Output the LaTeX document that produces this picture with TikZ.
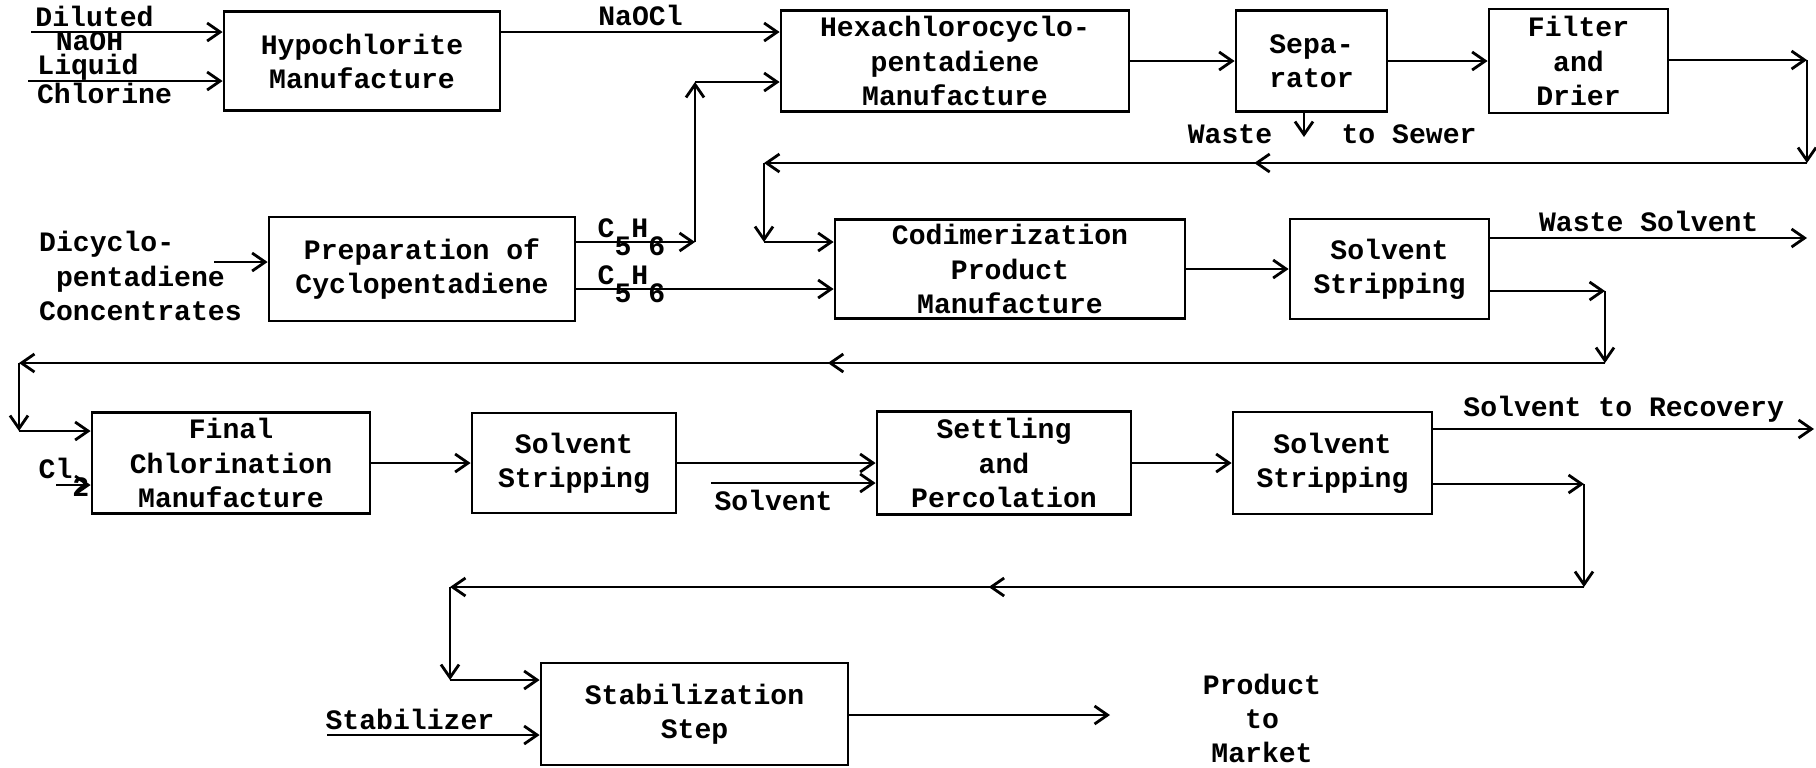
\documentclass[tikz,border=0pt]{standalone}
\usepackage{fontspec}
\setmainfont{Liberation Mono}
\usetikzlibrary{arrows.meta, decorations.markings}

\newcommand{\cph}{C\raisebox{-5.4pt}{5}H\raisebox{-5.4pt}{6}}

\begin{document}
\begin{tikzpicture}[
    font=\fontsize{8}{9.7}\selectfont\bfseries,
    node distance=3cm,
    box/.style={rectangle, draw, line width=0.8pt, align=center, inner sep=0.5pt, minimum height=1cm},
    txt/.style={align=center, inner sep=1pt},
    arrow/.style={-{Straight Barb[length=1.3mm, width=1.8mm]}, line width=0.8pt},
    back/.style={arrow, postaction={decorate, decoration={markings, mark=at position #1 with {\arrow{Straight Barb[length=1.3mm, width=1.8mm]}}}}}
]
    \useasboundingbox (0,0) rectangle (18.16,-7.67);

    \node[box, minimum width=2.76cm, minimum height=0.99cm] (hypo) at (3.62,-0.61) {Hypochlorite\\Manufacture};
    \node[box, right of=hypo, node distance=5.93cm, minimum width=3.48cm, minimum height=1.01cm] (hexa) {Hexachlorocyclo-\\pentadiene\\Manufacture};
    \node[box, right of=hexa, node distance=3.565cm, minimum width=1.51cm, minimum height=1.01cm] (sep) {Sepa-\\rator};
    \node[box, right of=sep, node distance=2.67cm, minimum width=1.79cm, minimum height=1.04cm] (filt) {Filter\\and\\Drier};

    \node[box, minimum width=3.06cm, minimum height=1.04cm] (prep) at (4.22,-2.69) {Preparation of\\Cyclopentadiene};
    \node[box, right of=prep, node distance=5.88cm, minimum width=3.5cm, minimum height=0.99cm] (codim) {Codimerization\\Product\\Manufacture};
    \node[box, right of=codim, node distance=3.795cm, minimum width=1.99cm] (strip1) {Solvent\\Stripping};

    \node[box, minimum width=2.78cm, minimum height=1.01cm] (final) at (2.31,-4.63) {Final\\Chlorination\\Manufacture};
    \node[box, right of=final, node distance=3.43cm, minimum width=2.04cm] (strip2) {Solvent\\Stripping};
    \node[box, right of=strip2, node distance=4.30cm, minimum width=2.54cm, minimum height=1.03cm] (settle) {Settling\\and\\Percolation};
    \node[box, right of=settle, node distance=3.285cm, minimum width=1.99cm, minimum height=1.02cm] (strip3) {Solvent\\Stripping};

    \node[box, minimum width=3.07cm, minimum height=1.02cm] (stab) at (6.945,-7.14) {Stabilization\\Step};

    \node[txt, inner sep=0pt] (diluted) at (0.945,-0.16) {Diluted};
    \node[txt, inner sep=0pt] (naoh) at (0.895,-0.41) {NaOH};
    \node[txt, inner sep=0pt] (liquid) at (0.88,-0.675) {Liquid};
    \node[txt, inner sep=0pt] (chlorine) at (1.045,-0.935) {Chlorine};
    \node[txt, anchor=west, align=left] (dcpd) at (0.35,-2.76) {Dicyclo-\\\phantom{D}pentadiene\\Concentrates};
    \node[anchor=base west, inner sep=0pt] (cph1) at (5.97,-2.37) {\cph};
    \node[anchor=base west, inner sep=0pt] (cph2) at (5.97,-2.84) {\cph};
    \node[txt] (waste) at (12.30,-1.34) {Waste};
    \node[txt] (sewer) at (14.09,-1.34) {to Sewer};
    \node[anchor=base west, inner sep=0pt] (cl) at (0.38,-4.78) {Cl\raisebox{-5.4pt}{2}};
    \node[txt] (market) at (12.62,-7.185) {Product\\to\\Market};

    \coordinate (naohin) at (0.31,-0.32);
    \coordinate (clin) at (0.28,-0.81);
    \coordinate (cp1) at (6.95,-2.42);
    \coordinate (cp2) at (6.95,-0.82);
    \coordinate (dcpdin) at (2.14,-2.62);
    \coordinate (r1) at (18.07,-0.60);
    \coordinate (r2) at (18.07,-1.63);
    \coordinate (r3) at (7.64,-1.63);
    \coordinate (r4) at (7.64,-2.42);
    \coordinate (sew) at (13.04,-1.37);
    \coordinate (wsout) at (18.07,-2.38);
    \coordinate (s1) at (16.05,-2.91);
    \coordinate (s2) at (16.05,-3.63);
    \coordinate (s3) at (0.19,-3.63);
    \coordinate (s4) at (0.19,-4.31);
    \coordinate (cl2in) at (0.56,-4.85);
    \coordinate (solvin) at (7.11,-4.83);
    \coordinate (recout) at (18.14,-4.29);
    \coordinate (t1) at (15.84,-4.84);
    \coordinate (t2) at (15.84,-5.87);
    \coordinate (t3) at (4.50,-5.87);
    \coordinate (t4) at (4.50,-6.80);
    \coordinate (stzin) at (3.27,-7.35);
    \coordinate (mktin) at (11.10,-7.15);

    \draw[arrow] (naohin) -- (naohin -| hypo.west);
    \draw[arrow] (clin) -- (clin -| hypo.west);
    \draw[arrow] (hypo.east |- naohin) -- node[above, inner sep=1.5pt] {NaOCl} (hexa.west |- naohin);
    \draw[arrow] (hexa) -- (sep);
    \draw[arrow] (sep) -- (filt);
    \draw[arrow] (sew |- sep.south) -- (sew);
    \draw[arrow] (filt.east |- r1) -- (r1);
    \draw[arrow] (r1) -- (r2);
    \draw[back=0.53] (r2) -- (r3);
    \draw[arrow] (r3) -- (r4);
    \draw[arrow] (r4) -- (r4 -| codim.west);

    \draw[arrow] (dcpdin) -- (dcpdin -| prep.west);
    \draw[arrow] (prep.east |- cp1) -- (cp1);
    \draw[arrow] (cp1) -- (cp2);
    \draw[arrow] (cp2) -- (cp2 -| hexa.west);
    \draw[arrow] ([yshift=-2mm]prep.east) -- ([yshift=-2mm]prep.east -| codim.west);
    \draw[arrow] (codim) -- (strip1);
    \draw[arrow] (strip1.east |- wsout) -- node[above, inner sep=1.5pt] {Waste Solvent} (wsout);
    \draw[arrow] (strip1.east |- s1) -- (s1);
    \draw[arrow] (s1) -- (s2);
    \draw[back=0.49] (s2) -- (s3);
    \draw[arrow] (s3) -- (s4);
    \draw[arrow] (s4) -- (s4 -| final.west);

    \draw[arrow] (cl2in) -- (cl2in -| final.west);
    \draw[arrow] (final) -- (strip2);
    \draw[arrow] (strip2) -- (settle);
    \draw[arrow] (solvin) -- node[below, pos=0.38, inner sep=1.5pt] {Solvent} (solvin -| settle.west);
    \draw[arrow] (settle) -- (strip3);
    \draw[arrow] (strip3.east |- recout) -- node[above, inner sep=1.5pt] {Solvent to Recovery} (recout);
    \draw[arrow] (strip3.east |- t1) -- (t1);
    \draw[arrow] (t1) -- (t2);
    \draw[back=0.525] (t2) -- (t3);
    \draw[arrow] (t3) -- (t4);
    \draw[arrow] (t4) -- (t4 -| stab.west);

    \draw[arrow] (stzin) -- node[above, pos=0.39, inner sep=1pt] {Stabilizer} (stzin -| stab.west);
    \draw[arrow] (stab.east |- mktin) -- (mktin);
\end{tikzpicture}
\end{document}
